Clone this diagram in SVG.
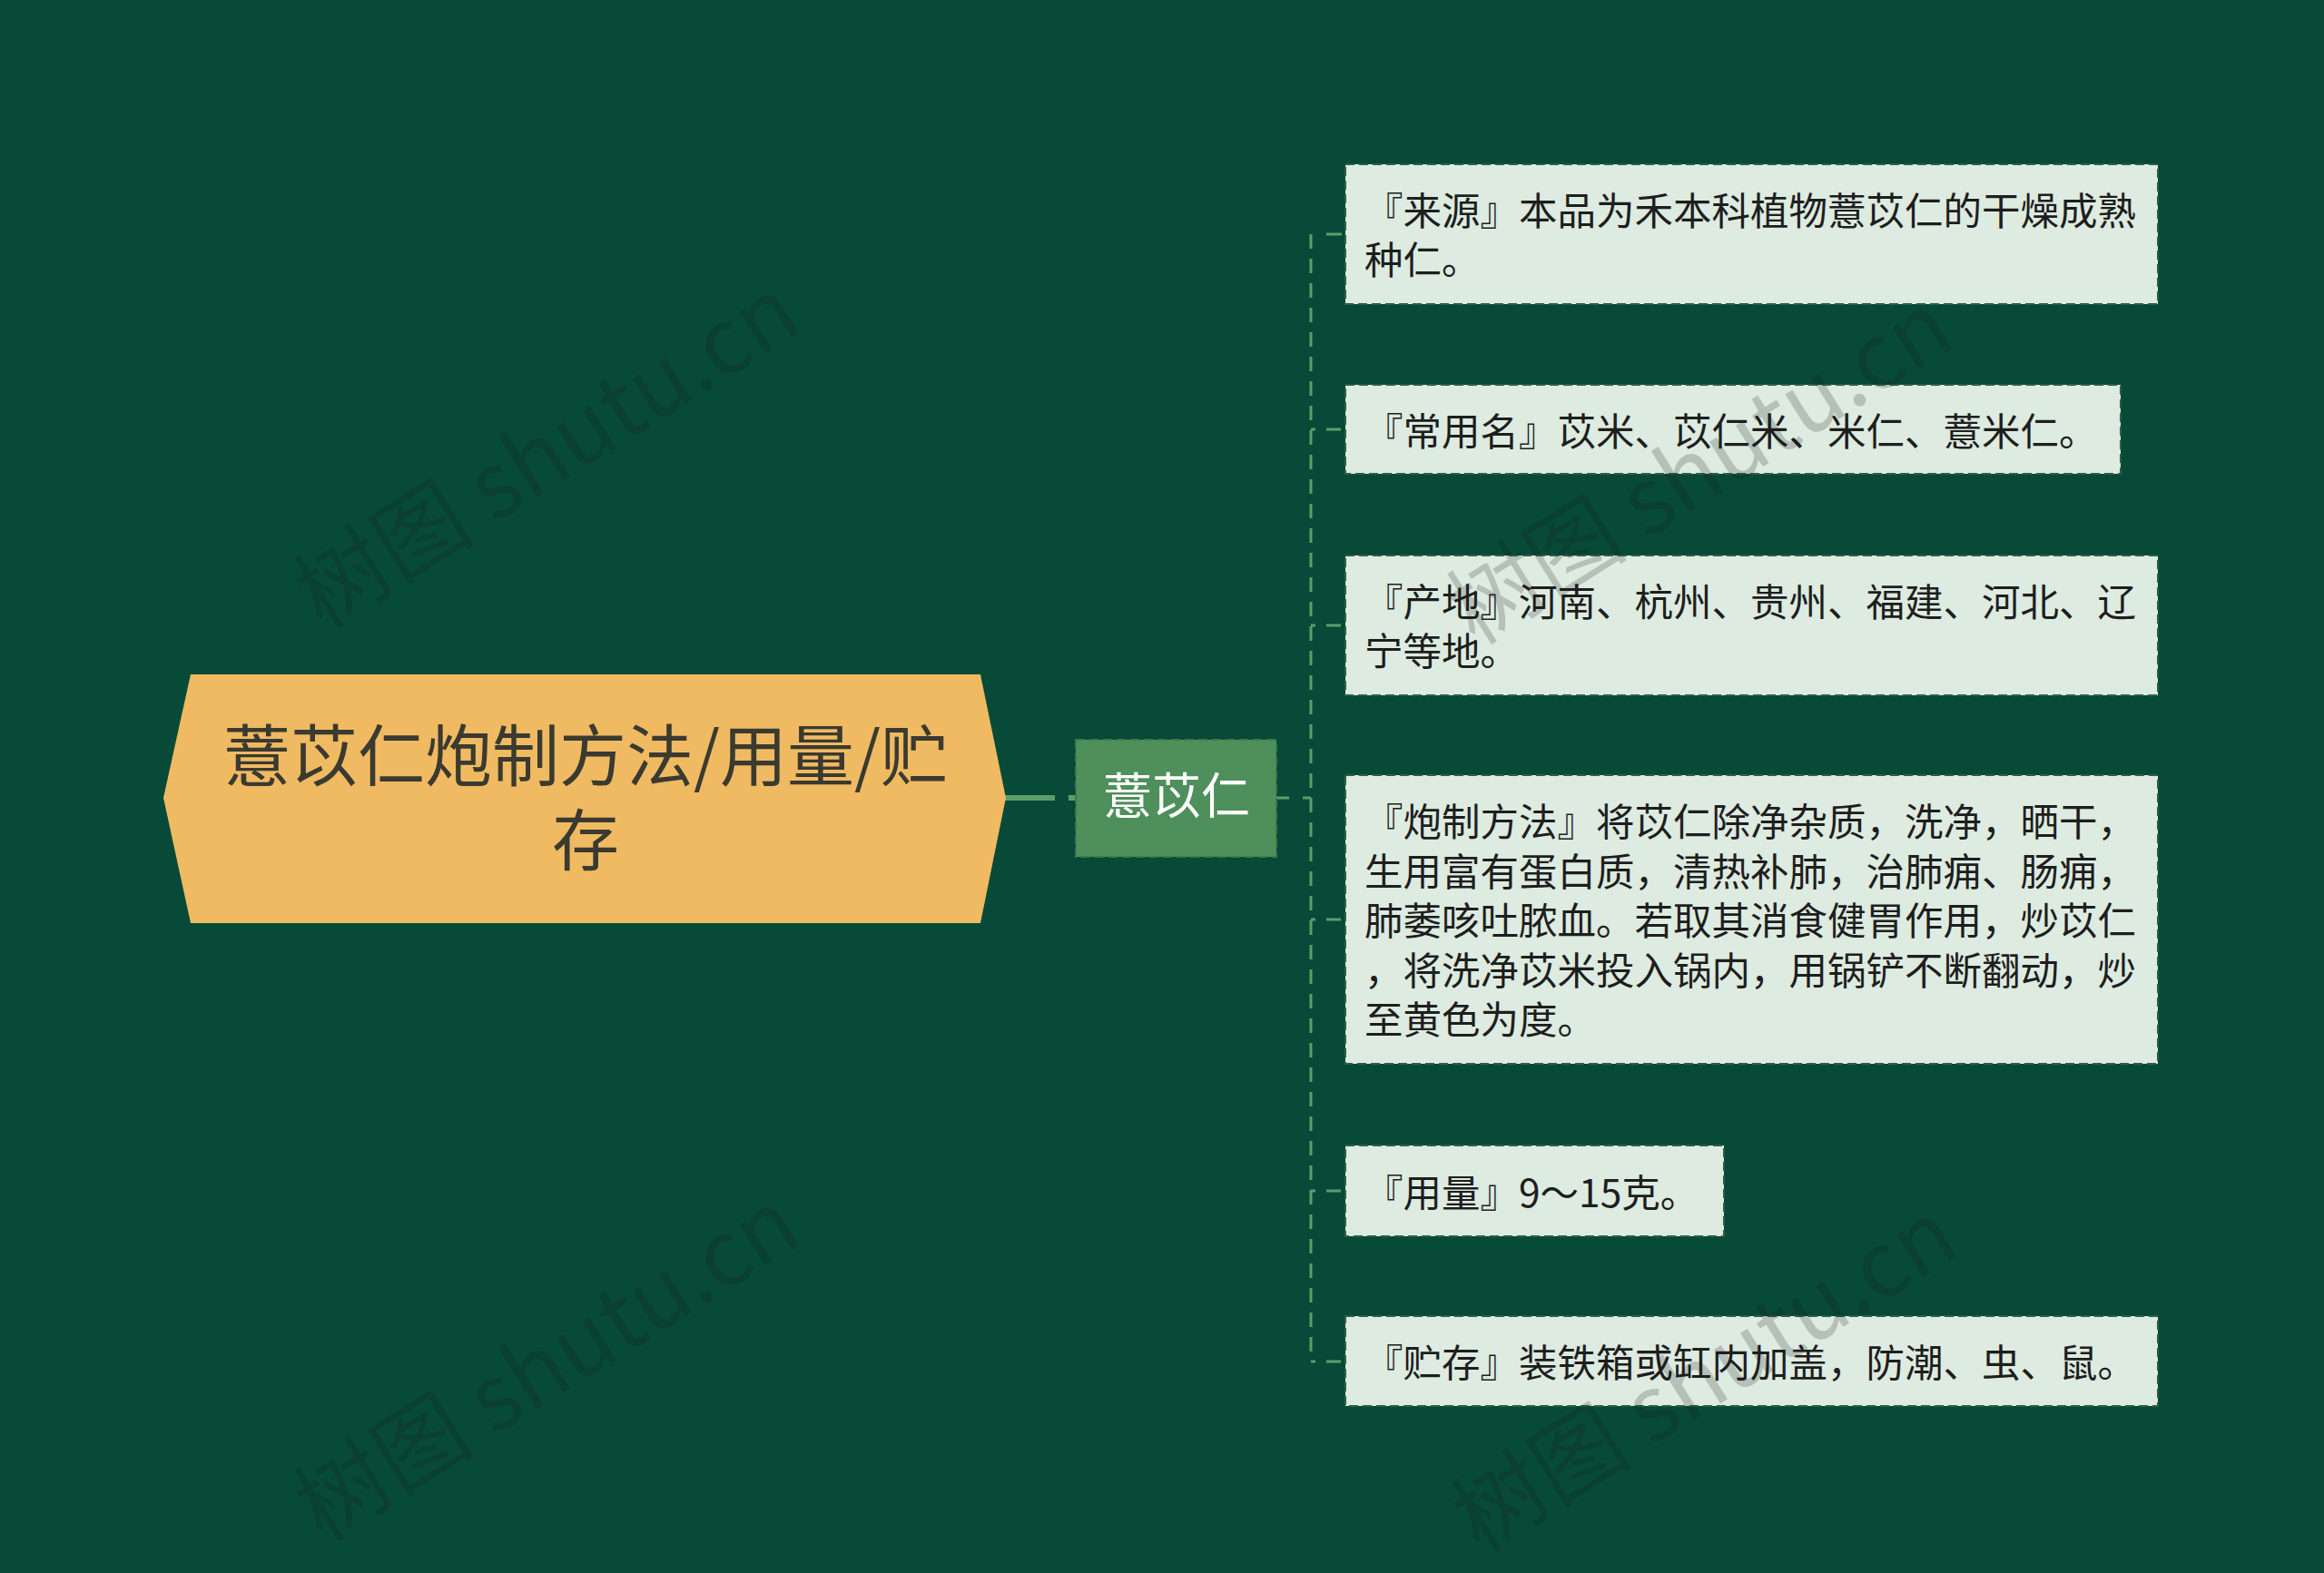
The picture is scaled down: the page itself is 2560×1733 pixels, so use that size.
<svg xmlns="http://www.w3.org/2000/svg" width="2560" height="1733" viewBox="0 0 2560 1733">
<style>
.bg{fill:#074A38}
.root{fill:#F0BA62}
.roottxt{font-family:"Noto Sans CJK SC","Noto Sans",sans-serif;font-size:74px;fill:#3A3A30;text-anchor:middle}
.mid{fill:#4E8F5B;stroke:#3C7A4B;stroke-width:2;stroke-dasharray:10 5}
.midtxt{font-family:"Noto Sans CJK SC","Noto Sans",sans-serif;font-size:54px;fill:#FFFFFF;text-anchor:middle}
.leaf{fill:#DDEBE0;stroke:#2E5E47;stroke-width:2;stroke-dasharray:10 5}
.leaftxt{font-family:"Noto Sans CJK SC","Noto Sans",sans-serif;font-size:42.5px;fill:#1E1E1E}
.wm{font-family:"Noto Sans CJK SC","Noto Sans",sans-serif;font-size:100px;fill:#1A1A1A;opacity:0.2}
.c1{fill:none;stroke:#5C9E6A;stroke-width:6}
.c2{fill:none;stroke:#5C9E6A;stroke-width:3}
</style>
<rect class="bg" x="0" y="0" width="2560" height="1733"/>

<g id="connectors">
  <path class="c1" d="M1107,879 H1185" stroke-dasharray="55 15 8"/>
  <path class="c2" d="M1406,879 H1444" stroke-dasharray="14 15 9"/>
  <path class="c2" d="M1444,258 V1500" stroke-dasharray="16 11"/>
  <path class="c2" d="M1461,258 H1478"/>
  <path class="c2" d="M1444,473 H1482" stroke-dasharray="5 12 16 20"/>
  <path class="c2" d="M1444,689 H1482" stroke-dasharray="5 12 16 20"/>
  <path class="c2" d="M1444,1013 H1482" stroke-dasharray="5 12 16 20"/>
  <path class="c2" d="M1444,1312 H1482" stroke-dasharray="5 12 16 20"/>
  <path class="c2" d="M1444,1500 H1482" stroke-dasharray="5 12 16 20"/>
</g>

<g id="root">
  <polygon class="root" points="180,879 210,743 1080,743 1108,879 1080,1017 210,1017"/>
  <text class="roottxt" x="645" y="860">薏苡仁炮制方法/用量/贮</text>
  <text class="roottxt" x="645" y="953">存</text>
</g>

<g id="center">
  <rect class="mid" x="1185" y="815" width="221" height="129"/>
  <text class="midtxt" x="1296" y="897">薏苡仁</text>
</g>

<g id="leaf1">
  <rect class="leaf" x="1482" y="181" width="895" height="154"/>
  <text class="leaftxt" x="1503" y="248">『来源』本品为禾本科植物薏苡仁的干燥成熟</text>
  <text class="leaftxt" x="1503" y="302">种仁。</text>
</g>
<g id="leaf2">
  <rect class="leaf" x="1482" y="424" width="854" height="98"/>
  <text class="leaftxt" x="1503" y="491">『常用名』苡米、苡仁米、米仁、薏米仁。</text>
</g>
<g id="leaf3">
  <rect class="leaf" x="1482" y="612" width="895" height="154"/>
  <text class="leaftxt" x="1503" y="679">『产地』河南、杭州、贵州、福建、河北、辽</text>
  <text class="leaftxt" x="1503" y="733">宁等地。</text>
</g>
<g id="leaf4">
  <rect class="leaf" x="1482" y="854" width="895" height="318"/>
  <text class="leaftxt" x="1503" y="921">『炮制方法』将苡仁除净杂质，洗净，晒干，</text>
  <text class="leaftxt" x="1503" y="976">生用富有蛋白质，清热补肺，治肺痈、肠痈，</text>
  <text class="leaftxt" x="1503" y="1030">肺萎咳吐脓血。若取其消食健胃作用，炒苡仁</text>
  <text class="leaftxt" x="1503" y="1085">，将洗净苡米投入锅内，用锅铲不断翻动，炒</text>
  <text class="leaftxt" x="1503" y="1139">至黄色为度。</text>
</g>
<g id="leaf5">
  <rect class="leaf" x="1482" y="1262" width="417" height="100"/>
  <text class="leaftxt" x="1503" y="1330">『用量』9～15克。</text>
</g>
<g id="leaf6">
  <rect class="leaf" x="1482" y="1450" width="895" height="99"/>
  <text class="leaftxt" x="1503" y="1517">『贮存』装铁箱或缸内加盖，防潮、虫、鼠。</text>
</g>

<g id="watermarks">
  <text class="wm" transform="translate(355,695) rotate(-32)">树图 shutu.cn</text>
  <text class="wm" transform="translate(355,1700) rotate(-32)">树图 shutu.cn</text>
  <text class="wm" transform="translate(1625,712) rotate(-32)">树图 shutu.cn</text>
  <text class="wm" transform="translate(1630,1712) rotate(-32)">树图 shutu.cn</text>
</g>
</svg>
